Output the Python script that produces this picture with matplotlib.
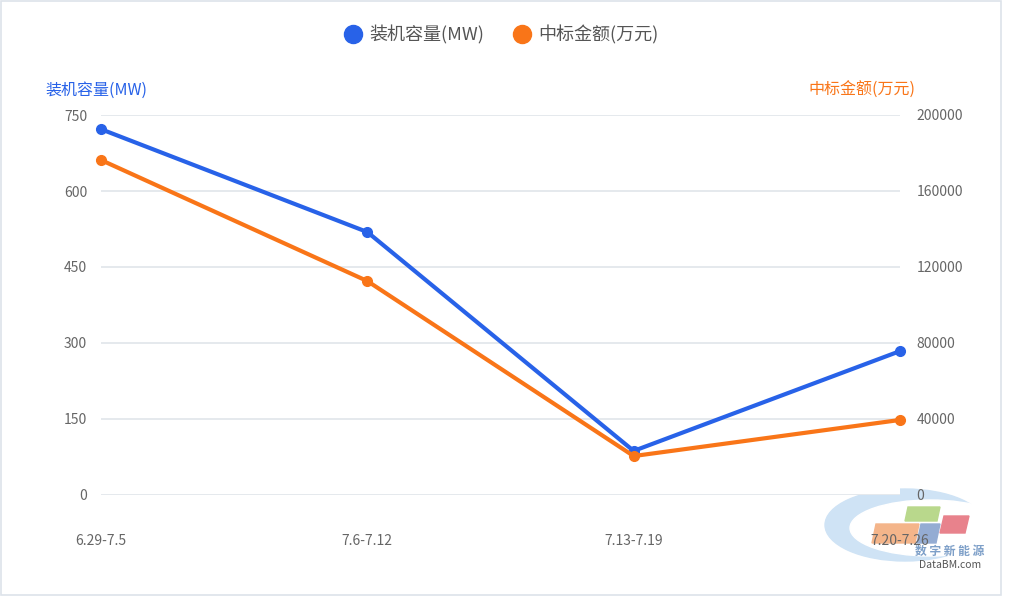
import matplotlib
matplotlib.use("Agg")
import matplotlib.pyplot as plt
from matplotlib.patches import Polygon, Ellipse, Rectangle
from matplotlib.lines import Line2D

plt.rcParams['font.family'] = ['Noto Sans CJK SC', 'DejaVu Sans']

# data
weeks = ['6.29-7.5', '7.6-7.12', '7.13-7.19', '7.20-7.26']
capacity_mw = [722, 519, 87, 284]
bid_amount = [176300, 112600, 20500, 39500]

blue = '#2862e8'
orange = '#f97518'
grey = '#666666'

fig = plt.figure(figsize=(10.1, 5.97), dpi=100)
ax = fig.add_axes([101/1010, 102/597, 799/1010, 380/597])
ax2 = ax.twinx()

x = list(range(len(weeks)))
ax.plot(x, capacity_mw, color=blue, lw=3, marker='o', ms=7, zorder=3, clip_on=False)
ax2.plot(x, bid_amount, color=orange, lw=3, marker='o', ms=7, zorder=3, clip_on=False)

ax.set_xlim(0, 3)
ax.set_ylim(0, 750)
ax2.set_ylim(0, 200000)
ax.set_yticks([0, 150, 300, 450, 600, 750])
ax2.set_yticks([0, 40000, 80000, 120000, 160000, 200000])
ax.set_xticks(x)
ax.set_xticklabels(weeks)

ax.grid(axis='y', color='#e3e7ec', lw=1.3)
ax.set_axisbelow(True)
for a in (ax, ax2):
    for s in a.spines.values():
        s.set_visible(False)
    a.tick_params(length=0, colors=grey, labelsize=10)
ax.tick_params(axis='y', pad=10)
ax2.tick_params(axis='y', pad=12)
ax.tick_params(axis='x', pad=28)

fig.text(45/1010, 1 - 90/597, '装机容量(MW)', color=blue, fontsize=11.5, va='center', ha='left')
fig.text(915/1010, 1 - 90/597, '中标金额(万元)', color=orange, fontsize=11.5, va='center', ha='right')

handles = [Line2D([], [], ls='none', marker='o', ms=13, color=blue),
           Line2D([], [], ls='none', marker='o', ms=13, color=orange)]
fig.legend(handles, ['装机容量(MW)', '中标金额(万元)'], loc='center',
           bbox_to_anchor=(0.494, 1 - 35/597), ncol=2, frameon=False,
           fontsize=13, labelcolor='#555555', handlelength=1.6,
           handletextpad=0.1, columnspacing=1.3)

# watermark (logo) bottom right
wm = fig.add_axes([0, 0, 1, 1], zorder=-1)
wm.set_xlim(0, 1010)
wm.set_ylim(597, 0)
wm.axis('off')
wm.add_patch(Ellipse((905, 525), 160, 72, color='#cfe3f5', zorder=1))
wm.add_patch(Ellipse((930, 528), 160, 56, color='white', zorder=1))
wm.add_patch(Polygon([[908, 507], [940, 507], [937, 521], [905, 521]], color='#b9d88c', zorder=2))
wm.add_patch(Polygon([[876, 524], [919, 524], [915, 543], [872, 543]], color='#f4b58a', zorder=2))
wm.add_patch(Polygon([[921, 524], [940, 524], [936, 543], [917, 543]], color='#94acd3', zorder=2))
wm.add_patch(Polygon([[944, 516], [969, 516], [965, 533], [940, 533]], color='#e8828c', zorder=2))
wm.text(950, 551, '数 字 新 能 源', color='#7d9fc8', fontsize=8.5, fontweight='bold',
        ha='center', va='center', zorder=2)
wm.text(950, 565, 'DataBM.com', color='#555555', fontsize=7.5, ha='center', va='center', zorder=2)
wm.add_patch(Rectangle((1, 1), 1000, 594, fill=False, ec='#dde3ea', lw=1.2))

fig.savefig('out.png', dpi=100, facecolor='white')
